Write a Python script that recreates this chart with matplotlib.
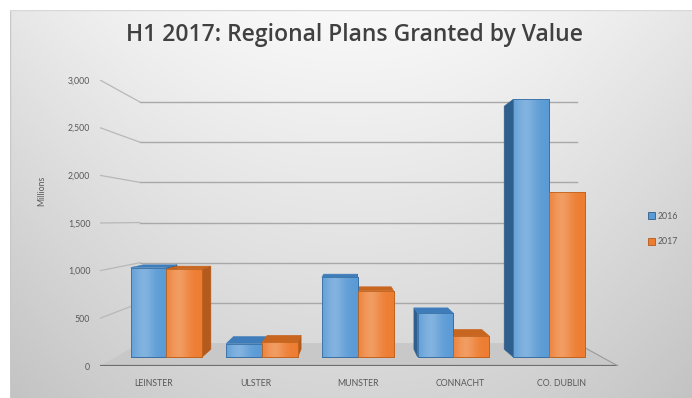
import numpy as np
import matplotlib
matplotlib.use("Agg")
import matplotlib.pyplot as plt
from matplotlib.patches import Polygon, Patch
from matplotlib.colors import to_rgb

# ---- data -------------------------------------------------------------
regions = ["LEINSTER", "ULSTER", "MUNSTER", "CONNACHT", "CO. DUBLIN"]
series_names = ["2016", "2017"]
values_2016 = [1000, 150, 890, 490, 2880]
values_2017 = [985, 165, 740, 235, 1850]
y_ticks = [0, 500, 1000, 1500, 2000, 2500, 3000]

# ---- style ------------------------------------------------------------
FONT = ["Lato", "DejaVu Sans"]
plt.rcParams["font.family"] = FONT
front_cols = ["#5b9bd5", "#ed7d31"]
side_cols = ["#2f5f8c", "#b35a1c"]
top_cols = ["#3f7dba", "#c8651f"]
edge_cols = ["#3a6fa3", "#c0631e"]

W, H = 692, 398
fig = plt.figure(figsize=(W / 100, H / 100), dpi=100)
fig.patch.set_facecolor("white")

# chart-area background: light at the top centre, grey towards the edges
bg = fig.add_axes([10 / W, 0, (W - 10) / W, (H - 10) / H])
bg.set_axis_off()
yy, xx = np.mgrid[0:1:200j, -1:1:300j]
shade = 0.975 - 0.14 * yy - 0.07 * xx ** 2
bg.imshow(np.dstack([shade] * 3), aspect="auto", extent=[0, 1, 0, 1],
          interpolation="bilinear", zorder=0)
bg.set_xlim(0, 1)
bg.set_ylim(0, 1)
bg.plot([0, 0], [0, 1], color="#c8c8c8", lw=1.0, transform=bg.transAxes)
bg.plot([0, 1], [1, 1], color="#d8d8d8", lw=1.0, transform=bg.transAxes)

# main axes = front plane of the 3-D box
ax = fig.add_axes([100 / W, (H - 366) / H, 518 / W, 286 / H])
ax.patch.set_alpha(0)
x_lo, x_hi = -0.53, 4.55
y_lo, y_hi = 0, 3000
ax.set_xlim(x_lo, x_hi)
ax.set_ylim(y_lo, y_hi)
for s in ax.spines.values():
    s.set_visible(False)

# one-point perspective: points recede towards a vanishing point
VX, VY = 1.96, 1530.0
F_BACK = 0.157          # depth of the back wall
F1, F2 = 0.062, 0.115   # front / back depth of the columns


def proj(x, y, f):
    return (x + f * (VX - x), y + f * (VY - y))


# floor
floor = Polygon([proj(x_lo, 0, 0), proj(x_hi, 0, 0),
                 proj(x_hi, 0, F_BACK), proj(x_lo, 0, F_BACK)],
                closed=True, facecolor="#c8c8c8", edgecolor="none", zorder=1)
ax.add_patch(floor)
fx = [proj(x_lo, 0, 0)[0], proj(x_hi, 0, 0)[0]]
ax.plot(fx, [0, 0], color="#6e6e6e", lw=1.6, zorder=2, solid_capstyle="butt")
ax.plot(*zip(proj(x_hi, 0, 0), proj(x_hi, 0, F_BACK)), color="#9a9a9a",
        lw=0.8, zorder=2)

# gridlines on the back wall and the left wall
for v in y_ticks[1:]:
    a = proj(x_lo, v, F_BACK)
    b = proj(x_hi, v, F_BACK)
    ax.plot([a[0], b[0]], [a[1], b[1]], color="#a8a8a8", lw=1.0, zorder=1)
    c = proj(x_lo, v, 0)
    ax.plot([c[0], a[0]], [c[1], a[1]], color="#b8b8b8", lw=0.9, zorder=1)

# columns
bar_w = 0.375
all_vals = [values_2016, values_2017]
fronts = []
for s, vals in enumerate(all_vals):
    for i, v in enumerate(vals):
        xl = i - bar_w + s * bar_w
        xr = xl + bar_w
        xc = 0.5 * (xl + xr)
        # side face
        xs = xr if xc < VX else xl
        side = Polygon([proj(xs, 0, F1), proj(xs, 0, F2),
                        proj(xs, v, F2), proj(xs, v, F1)], closed=True,
                       facecolor=side_cols[s], edgecolor=side_cols[s],
                       lw=0.4, zorder=3)
        ax.add_patch(side)
        # top face (visible when below eye level)
        if v < VY:
            top = Polygon([proj(xl, v, F1), proj(xr, v, F1),
                           proj(xr, v, F2), proj(xl, v, F2)], closed=True,
                          facecolor=top_cols[s], edgecolor=top_cols[s],
                          lw=0.4, zorder=3)
            ax.add_patch(top)
        fronts.append((s, xl, xr, v))

for s, xl, xr, v in fronts:
    p0 = proj(xl, 0, F1)
    p1 = proj(xr, v, F1)
    face = Polygon([p0, (p1[0], p0[1]), p1, (p0[0], p1[1])], closed=True,
                   facecolor=front_cols[s], edgecolor=edge_cols[s], lw=0.6,
                   zorder=4)
    ax.add_patch(face)
    base = np.array(to_rgb(front_cols[s]))
    t = np.linspace(0, 1, 60)
    glow = 0.24 * np.exp(-((t - 0.35) / 0.3) ** 2)
    grad = base[None, :] + (1 - base[None, :]) * glow[:, None]
    im = ax.imshow(grad[None, :, :], extent=[p0[0], p1[0], p0[1], p1[1]],
                   aspect="auto", interpolation="bilinear", zorder=4.5)
    im.set_clip_path(face)
    ax.add_patch(Polygon(face.get_xy(), closed=True, facecolor="none",
                         edgecolor=edge_cols[s], lw=0.6, zorder=5))

ax.set_xlim(x_lo, x_hi)
ax.set_ylim(y_lo, y_hi)

# ticks and labels
ax.set_yticks(y_ticks)
ax.set_yticklabels([f"{t:,}" for t in y_ticks])
ax.set_xticks(range(len(regions)))
ax.set_xticklabels(regions)
ax.tick_params(axis="both", length=0, labelsize=6.3, labelcolor="#595959")
ax.tick_params(axis="y", pad=7)
ax.tick_params(axis="x", pad=9)

fig.text(42 / W, 1 - 191 / H, "Millions", rotation=90, ha="center",
         va="center", fontsize=6.3, color="#595959")

fig.text(355 / W, 1 - 35 / H, "H1 2017: Regional Plans Granted by Value",
         ha="center", va="center", fontsize=16.5, color="#404040",
         family=["Open Sans", "DejaVu Sans"], weight="semibold")

handles = [Patch(facecolor=front_cols[k], edgecolor=side_cols[k], lw=0.6)
           for k in range(2)]
fig.legend(handles, series_names, loc="center left",
           bbox_to_anchor=(640 / W, 1 - 229 / H), frameon=False,
           fontsize=6.3, handlelength=0.8, handleheight=0.8,
           handletextpad=0.3, labelspacing=1.9, labelcolor="#595959")

fig.savefig("out.png", dpi=100)
